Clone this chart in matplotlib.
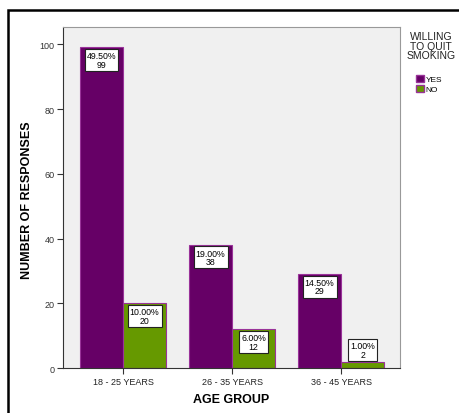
import matplotlib
matplotlib.use("Agg")
import matplotlib.pyplot as plt
from matplotlib.patches import Rectangle, Patch
import numpy as np

plt.rcParams['font.family'] = ['Liberation Sans', 'DejaVu Sans']

categories = ["18 - 25 YEARS", "26 - 35 YEARS", "36 - 45 YEARS"]
yes_values = [99, 38, 29]
no_values = [20, 12, 2]
yes_pct = ["49.50%", "19.00%", "14.50%"]
no_pct = ["10.00%", "6.00%", "1.00%"]
yticks = [0, 20, 40, 60, 80, 100]

purple = "#660066"
green = "#669900"
edge = "#993399"

fig = plt.figure(figsize=(4.59, 4.14), dpi=100)
fig.patch.set_facecolor("white")
ax = fig.add_axes([63/459, 1-369.3/414, 337/459, (369.3-28)/414])
ax.set_facecolor("#f0f0f0")

x = np.arange(len(categories))
w = 0.395
ax.bar(x - w/2, yes_values, w, color=purple, edgecolor=edge, linewidth=0.8, label="YES")
ax.bar(x + w/2, no_values, w, color=green, edgecolor=edge, linewidth=0.8, label="NO")

ax.set_xlim(-0.55, 2.54)
ax.set_ylim(0, 105.3)
ax.set_yticks(yticks)
ax.set_yticklabels([str(t) for t in yticks], fontsize=6.5, color="#333333")
ax.set_xticks(x)
ax.set_xticklabels(categories, fontsize=6.5, color="#222222")
ax.tick_params(axis='both', direction='out', length=4, width=0.8, color="#333333", pad=2)

for s in ['top', 'right']:
    ax.spines[s].set_color("#999999")
    ax.spines[s].set_linewidth(0.8)
for s in ['left', 'bottom']:
    ax.spines[s].set_color("#333333")
    ax.spines[s].set_linewidth(0.8)

ax.set_xlabel("AGE GROUP", fontsize=9, fontweight='bold')
ax.xaxis.set_label_coords((231-63)/337, (369.3-400)/341.3)
ax.xaxis.label.set_va('center')
ax.set_ylabel("NUMBER OF RESPONSES", fontsize=9, fontweight='bold')
ax.yaxis.set_label_coords((27-63)/337, (369.3-200)/341.3)
ax.yaxis.label.set_va('center')

bbox = dict(boxstyle="square,pad=0.25", fc="white", ec="#222222", lw=0.8)
def label(xc, val, pct):
    txt = f"{pct}\n{val}"
    if val >= 8:
        ax.annotate(txt, (xc, val), xytext=(0, -2.5), textcoords='offset points',
                    ha='center', va='top', fontsize=6.3, bbox=bbox, linespacing=0.95)
    else:
        ax.annotate(txt, (xc, val), xytext=(0, 2.0), textcoords='offset points',
                    ha='center', va='bottom', fontsize=6.3, bbox=bbox, linespacing=0.95)

for i in range(len(categories)):
    label(x[i] - w/2, yes_values[i], yes_pct[i])
    label(x[i] + w/2, no_values[i], no_pct[i])

fig.text(431/459, 1-32/414, "WILLING\nTO QUIT\nSMOKING", ha='center', va='top',
         fontsize=7.5, linespacing=0.95, color="#222222")

ax.legend(handles=[Patch(facecolor=purple, edgecolor=edge, label="YES"),
                   Patch(facecolor=green, edgecolor=edge, label="NO")],
          loc='upper left', bbox_to_anchor=(416/459, 1-76/414), bbox_transform=fig.transFigure,
          frameon=False, fontsize=6,
          handlelength=0.9, handleheight=0.9, handletextpad=0.25,
          labelspacing=0.15, borderpad=0, borderaxespad=0)

fig.patches.append(Rectangle((8/459, -0.2), 1.5, 1.2 - 11/414, transform=fig.transFigure,
                             fill=False, ec="black", lw=1.8, clip_on=False))

fig.savefig("out.png", dpi=100)
